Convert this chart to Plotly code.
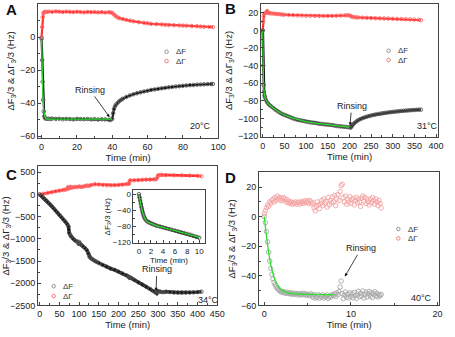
import plotly.graph_objects as go

W, H = 455, 337

# ---------------- Panel A (20 C) ----------------
a_t_f = [0, 0.3, 0.6, 0.9, 1.2, 1.5, 2, 3, 4, 5,
         6, 8, 10, 12, 14, 16, 18, 20, 22, 24,
         26, 28, 30, 32, 34, 36, 38, 39, 40, 40.5,
         41, 41.5, 42, 43, 44, 45, 46, 48, 50, 52,
         54, 56, 58, 60, 62, 64, 66, 68, 70, 72,
         74, 76, 78, 80, 82, 84, 86, 88, 90, 92,
         94, 96, 97]
a_f = [-1, -14, -27, -38, -45, -48, -49.2, -49.5, -49.4, -49.6,
       -49.3, -49.5, -49.4, -49.7, -49.5, -49.6, -49.8, -49.5, -49.6, -49.7,
       -49.5, -49.8, -49.6, -49.9, -49.7, -49.8, -50, -50.2, -49.5, -46,
       -43.5, -42, -41, -39.8, -38.8, -38, -37.3, -36.2, -35.3, -34.6,
       -34, -33.4, -32.9, -32.5, -32, -31.7, -31.3, -31, -30.7, -30.4,
       -30.2, -29.9, -29.7, -29.5, -29.3, -29.1, -29, -28.8, -28.7, -28.6,
       -28.5, -28.4, -28.4]
a_t_g = [0, 0.3, 0.6, 1, 1.5, 2, 3, 4, 6, 8,
         10, 12, 14, 16, 18, 20, 22, 24, 26, 28,
         30, 32, 34, 36, 38, 39, 40, 41, 42, 43,
         44, 46, 48, 50, 52, 55, 58, 60, 62, 65,
         68, 70, 72, 75, 78, 80, 82, 85, 88, 90,
         92, 95, 97]
a_g = [0, 6, 12, 14.5, 15, 15.3, 15.1, 15.4, 15.2, 15.5,
       15.3, 15.1, 15.4, 15.2, 15.0, 15.3, 15.1, 14.9, 15.2, 15.0,
       15.2, 14.9, 15.1, 14.8, 15.0, 14.9, 14.6, 13.6, 12.6, 11.9,
       11.4, 10.8, 10.3, 9.9, 9.5, 9.0, 8.6, 8.3, 8.0, 7.8,
       7.6, 7.4, 7.2, 7.1, 7.0, 6.9, 6.8, 6.6, 6.5, 6.3,
       6.2, 6.1, 6.0]
a_fit_t = [0, 0.25, 0.5, 0.75, 1, 1.25, 1.5, 2, 2.5, 3, 4, 6, 10, 20, 30, 40]
a_fit = [-1.5, -15, -27, -35, -41, -44.5, -46.5, -48.5, -49.2, -49.5,
         -49.6, -49.6, -49.6, -49.6, -49.6, -49.6]

# ---------------- Panel B (31 C) ----------------
b_t_f = [0, 1, 2, 3, 4, 5, 7, 10, 13, 16,
         20, 25, 30, 35, 40, 45, 50, 55, 60, 65,
         70, 75, 80, 85, 90, 95, 100, 105, 110, 115,
         120, 125, 130, 135, 140, 145, 150, 155, 160, 165,
         170, 175, 180, 185, 190, 195, 200, 203, 206, 209,
         212, 216, 220, 225, 230, 235, 240, 245, 250, 255,
         260, 265, 270, 275, 280, 285, 290, 295, 300, 305,
         310, 315, 320, 325, 330, 335, 340, 345, 350, 355,
         360, 365]
b_f = [0, -40, -62, -70, -74, -76, -79, -81.5, -83.5, -85,
       -86.5, -88.5, -90.5, -92, -93.5, -95, -96, -97, -98, -99,
       -100, -100.8, -101.5, -102, -102.5, -103, -103.5, -104, -104.5, -104.8,
       -105, -105.5, -106, -106.2, -106.5, -106.8, -107, -107.3, -107.5, -108,
       -108.5, -108.8, -109, -109.3, -109.5, -109.8, -110, -110.5, -108.5, -106.5,
       -105, -103.5, -102, -100.8, -99.8, -98.8, -98, -97.3, -96.7, -96.1,
       -95.6, -95.1, -94.7, -94.3, -93.9, -93.5, -93.2, -92.9, -92.6, -92.3,
       -92, -91.8, -91.5, -91.3, -91.1, -90.9, -90.7, -90.5, -90.4, -90.2,
       -90.1, -90]
b_t_g = [0, 1, 2, 3, 5, 8, 10, 13, 16, 20,
         25, 30, 35, 40, 45, 50, 60, 70, 80, 90,
         100, 110, 120, 130, 140, 150, 160, 170, 180, 190,
         195, 200, 203, 206, 210, 215, 220, 230, 240, 250,
         260, 270, 280, 290, 300, 310, 320, 330, 340, 350,
         360, 365]
b_g = [0, 10, 16, 19, 19.5, 20, 22, 19.8, 19.5, 19.2,
       19, 18.7, 18.5, 18.3, 18, 17.8, 17.5, 17.3, 17, 16.8,
       16.6, 16.5, 16.4, 16.4, 16.3, 16.4, 16.5, 16.6, 16.8, 17.1,
       17.2, 17, 16.2, 15.5, 15, 14.8, 14.6, 14.4, 14.2, 14,
       13.8, 13.7, 13.5, 13.4, 13.2, 13, 12.9, 12.7, 12.5, 12.3,
       12.1, 11.5]
b_fit_t = [0, 1, 2, 3, 5, 10, 20, 40, 60, 100, 150, 200]
b_fit = [0, -40, -62, -70, -76, -81.5, -86.5, -93.5, -98, -103.5, -107, -110]

# ---------------- Panel C (34 C) ----------------
c_t_f = [0, 5, 10, 15, 20, 25, 30, 35, 40, 45,
         50, 55, 60, 65, 70, 73, 75, 78, 80, 85,
         90, 95, 98, 100, 102, 105, 110, 115, 120, 123,
         126, 129, 132, 135, 140, 145, 150, 160, 170, 180,
         190, 200, 210, 220, 225, 228, 230, 235, 240, 250,
         260, 270, 280, 290, 294, 297, 300, 305, 310, 315,
         320, 330, 340, 350, 360, 370, 380, 390, 400, 410]
c_f = [0, -40, -80, -120, -165, -210, -260, -310, -360, -410,
       -460, -510, -560, -610, -670, -720, -870, -920, -950, -1000,
       -1040, -1060, -1100, -1070, -1110, -1130, -1170, -1210, -1260, -1330,
       -1400, -1430, -1450, -1470, -1500, -1520, -1545, -1590, -1630, -1670,
       -1700, -1740, -1780, -1820, -1850, -1880, -1870, -1900, -1930, -1980,
       -2030, -2080, -2130, -2180, -2210, -2230, -2180, -2190, -2200, -2200,
       -2190, -2200, -2210, -2210, -2210, -2210, -2210, -2205, -2200, -2190]
c_t_g = [0, 10, 20, 30, 40, 50, 60, 65, 70, 72,
         75, 78, 80, 85, 90, 95, 100, 105, 110, 115,
         120, 125, 130, 140, 150, 160, 170, 180, 190, 200,
         210, 220, 226, 228, 230, 240, 250, 260, 270, 280,
         290, 295, 298, 300, 305, 310, 320, 340, 360, 380,
         400, 410]
c_g = [0, 15, 35, 50, 70, 85, 100, 110, 120, 160,
       140, 170, 150, 160, 170, 165, 180, 170, 175, 190,
       200, 195, 210, 230, 225, 215, 205, 205, 210, 215,
       220, 230, 240, 300, 320, 320, 325, 330, 335, 335,
       340, 345, 380, 430, 440, 440, 435, 430, 430, 425,
       420, 410]

# inset: first ten minutes of panel C
i_t = [0, 0.1, 0.2, 0.3, 0.4, 0.5, 0.6, 0.7, 0.8, 0.9,
       1, 1.2, 1.4, 1.6, 1.8, 2, 2.25, 2.5, 2.75, 3,
       3.5, 4, 4.5, 5, 5.5, 6, 6.5, 7, 7.5, 8,
       8.5, 9, 9.5, 10]
i_f = [0, -8, -16, -24, -32, -38, -44, -49, -54, -58,
       -61, -65, -67.5, -69.5, -71, -72.5, -74, -75.5, -77, -78.5,
       -80.5, -82.5, -84.5, -86.5, -88.5, -90.5, -92.5, -94.5, -96.5, -98.5,
       -100.5, -103, -105.5, -108]
i_fit_t = [0, 0.25, 0.5, 0.75, 1, 1.5, 2, 3, 4, 5, 6, 7, 8, 9, 10]
i_fit = [0, -20, -38, -51, -61, -69.5, -72.5, -78.5, -82.5, -86.5, -90.5, -94.5, -98.5, -103, -108]

# ---------------- Panel D (40 C) ----------------
d_t = [0, 0.125, 0.25, 0.375, 0.5, 0.625, 0.75, 0.875,
       1.0, 1.125, 1.25, 1.375, 1.5, 1.625, 1.75, 1.875,
       2.0, 2.125, 2.25, 2.375, 2.5, 2.625, 2.75, 2.875,
       3.0, 3.125, 3.25, 3.375, 3.5, 3.625, 3.75, 3.875,
       4.0, 4.125, 4.25, 4.375, 4.5, 4.625, 4.75, 4.875,
       5.0, 5.125, 5.25, 5.375, 5.5, 5.625, 5.75, 5.875,
       6.0, 6.125, 6.25, 6.375, 6.5, 6.625, 6.75, 6.875,
       7.0, 7.125, 7.25, 7.375, 7.5, 7.625, 7.75, 7.875,
       8.0, 8.125, 8.25, 8.375, 8.5, 8.625, 8.75, 8.875,
       9.0, 9.125, 9.25, 9.375, 9.5, 9.625, 9.75, 9.875,
       10.0, 10.125, 10.25, 10.375, 10.5, 10.625, 10.75, 10.875,
       11.0, 11.125, 11.25, 11.375, 11.5, 11.625, 11.75, 11.875,
       12.0, 12.125, 12.25, 12.375, 12.5, 12.625, 12.75, 12.875,
       13.0, 13.125, 13.25, 13.375, 13.5]
d_f = [0, -4, -10, -17, -24, -30, -35, -39,
       -42, -44.5, -46, -47.5, -48.5, -49, -50, -50.5,
       -51, -50.5, -51.5, -51, -51.8, -51.2, -52, -51.5,
       -52.2, -51.6, -52.5, -51.8, -52.3, -52, -52.8, -51.9,
       -52.4, -53, -52.1, -52.6, -51.8, -52.9, -52.3, -53.2,
       -52.4, -52.8, -53.5, -52.2, -53, -54.5, -52.6, -55,
       -53.8, -54.6, -52.8, -55.2, -53.5, -54.2, -53, -55,
       -53.6, -54.4, -52.9, -55.3, -53.8, -54.5, -53.2, -52.6,
       -53.4, -52.2, -54, -51.5, -52.8, -50.5, -47.5, -43.5,
       -52, -55.5, -53, -51, -54.5, -52.5, -55, -51.5,
       -53.8, -52, -54.8, -51.2, -53.5, -55.2, -52.4, -50.5,
       -54, -51.8, -53.6, -50.2, -55, -52.6, -51, -54.3,
       -52.2, -50.6, -53.8, -51.5, -54.6, -52.3, -50.8, -53.5,
       -51.8, -54.2, -52.8, -53.6, -52.6]
d_g = [2, 4, 6, 8, 7, 10, 9, 11,
       12, 10, 13, 11, 14, 12, 13, 11,
       12.5, 11, 13, 12, 10, 11.5, 9.5, 10.5,
       9, 10, 8.5, 9.5, 9, 10, 8.5, 9.5,
       10, 8.5, 9.5, 10.5, 9, 10, 11, 9.5,
       10.5, 9, 11, 10, 8.5, 9.5, 6, 4,
       7, 10, 8, 5.5, 9, 11, 7.5, 12,
       9, 10.5, 6.5, 13, 8, 11, 9.5, 13.5,
       10, 14.5, 7.5, 12, 15, 11, 17, 21,
       22, 13, 10, 14, 8.5, 12, 10, 13.5,
       9, 11.5, 12.5, 8, 11, 13, 9.5, 12,
       10, 7, 12.5, 14, 10.5, 13, 9, 12,
       10, 8, 12, 9.5, 13, 11, 8.5, 12,
       10, 7.5, 11, 9, 6]
d_fit_t = [0, 0.25, 0.5, 0.75, 1, 1.25, 1.5, 2, 2.5, 3, 4, 5, 6, 7, 8]
d_fit = [0, -13, -24, -32.5, -38.5, -43, -46, -49.5, -51, -51.8, -52.3, -52.5, -52.6, -52.7, -52.8]

FONT = "Arial, Liberation Sans, sans-serif"
FIT_GREEN = "#2fe02f"
YTITLE = "ΔF<sub>3</sub>/3 & ΔΓ<sub>3</sub>/3 (Hz)"


def px(x):
    return x / W


def py(y):
    return 1 - y / H


fig = go.Figure()


def band(t, v, lcol, mcol, ax, size=3.5, lw=2.2, mode="lines+markers"):
    fig.add_trace(go.Scatter(
        x=t, y=v, xaxis=ax[0], yaxis=ax[1], mode=mode,
        line=dict(color=lcol, width=lw),
        marker=dict(symbol="circle-open", size=size, color=mcol, line=dict(width=0.9)),
        showlegend=False, hoverinfo="skip"))


def fit(t, v, ax, lw=1.3):
    fig.add_trace(go.Scatter(
        x=t, y=v, xaxis=ax[0], yaxis=ax[1], mode="lines",
        line=dict(color=FIT_GREEN, width=lw, shape="spline"),
        showlegend=False, hoverinfo="skip"))


RED_L, RED_M = "#ff3030", "#ff6a6a"
BLK_L, BLK_M = "#111111", "#555555"

band(a_t_g, a_g, RED_L, RED_M, ("x", "y"))
band(a_t_f, a_f, BLK_L, BLK_M, ("x", "y"))
fit(a_fit_t, a_fit, ("x", "y"))

band(b_t_g, b_g, RED_L, RED_M, ("x2", "y2"))
band(b_t_f, b_f, BLK_L, BLK_M, ("x2", "y2"), lw=2.6)
fit(b_fit_t, b_fit, ("x2", "y2"))

band(c_t_g, c_g, RED_L, RED_M, ("x3", "y3"), lw=2.6)
band(c_t_f, c_f, BLK_L, BLK_M, ("x3", "y3"), lw=3.4)

band(d_t, d_g, None, "#f4a3a3", ("x4", "y4"), size=4.5, mode="markers")
band(d_t, d_f, None, "#a8a8a8", ("x4", "y4"), size=4.5, mode="markers")
fit(d_fit_t, d_fit, ("x4", "y4"))

band(i_t, i_f, BLK_L, BLK_M, ("x5", "y5"), lw=3)
fit(i_fit_t, i_fit, ("x5", "y5"))


def axis(domain, rng, dtick, anchor, title=None, minor=None, tfs=9):
    d = dict(domain=domain, range=rng, dtick=dtick, anchor=anchor,
             showgrid=False, zeroline=False, showline=True, mirror=True,
             linecolor="#444", linewidth=1, ticks="inside", ticklen=3,
             tickcolor="#444", tickfont=dict(family=FONT, size=tfs, color="#222"))
    if minor:
        d["minor"] = dict(dtick=minor, ticks="inside", ticklen=2, tickcolor="#444")
    if title:
        d["title"] = dict(text=title, font=dict(family=FONT, size=9.5, color="#222"), standoff=3)
    return d


dA = dict(x=(px(35), px(220)), y=(py(140), py(4)))
dB = dict(x=(px(264), px(446)), y=(py(139), py(4)))
dC = dict(x=(px(35), px(219)), y=(py(310), py(169)))
dD = dict(x=(px(262), px(447)), y=(py(310), py(175)))
dI = dict(x=(px(133), px(206)), y=(py(247), py(193)))

fig.update_layout(
    width=W, height=H, margin=dict(l=0, r=0, t=0, b=0),
    paper_bgcolor="white", plot_bgcolor="white",
    font=dict(family=FONT, color="#222"),
    xaxis=axis(dA["x"], [-2, 100], 20, "y", "Time (min)", 10),
    yaxis=axis(dA["y"], [-61, 20], 20, "x", YTITLE, 10),
    xaxis2=axis(dB["x"], [-4, 405], 50, "y2", "Time (min)", 25),
    yaxis2=axis(dB["y"], [-121, 30], 20, "x2", YTITLE, 10),
    xaxis3=axis(dC["x"], [-4, 450], 50, "y3", "Time (min)", 25),
    yaxis3=axis(dC["y"], [-2500, 630], 500, "x3", YTITLE, 250),
    xaxis4=axis(dD["x"], [-0.6, 20.2], 10, "y4", "Time (min)", 5),
    yaxis4=axis(dD["y"], [-60, 30], 20, "x4", YTITLE, 10),
    xaxis5=axis(dI["x"], [-0.9, 10.9], 2, "y5", "Time (min)", 1, tfs=8),
    yaxis5=axis(dI["y"], [-122, 10], 40, "x5", "ΔF<sub>3</sub>/3 (Hz)", 20, tfs=8),
)
fig.layout.xaxis5.title.font.size = 8
fig.layout.yaxis5.title.font.size = 8
fig.layout.xaxis5.title.standoff = 1
fig.layout.yaxis5.title.standoff = 1

ann = []
shapes = []


def label(text, x, y, size=9, xanchor="center", color="#222"):
    ann.append(dict(text=text, x=px(x), y=py(y), xref="paper", yref="paper",
                    xanchor=xanchor, yanchor="middle", showarrow=False,
                    font=dict(family=FONT, size=size, color=color)))


# panel letters
for letter, x, y in [("A", 8, 10), ("B", 233, 9), ("C", 8, 177), ("D", 233, 180)]:
    label(f"<b>{letter}</b>", x, y, size=15, color="#111")

# temperature labels
for txt, x, y in [("20°C", 202, 128), ("31°C", 435, 128), ("34°C", 210, 305), ("40°C", 429, 302)]:
    label(txt, x, y)

# legends drawn as glyph + text
for (mx, my1, my2, tx) in [(167, 52.5, 62, 175), (395, 51.5, 61, 403), (51, 290.5, 300.5, 59), (405, 232.5, 242, 413)]:
    for my, col, lab in [(my1, "#8a8a8a", "ΔF"), (my2, "#f07070", "ΔΓ")]:
        shapes.append(dict(type="circle", xref="paper", yref="paper",
                           x0=px(mx - 1.8), x1=px(mx + 1.8), y0=py(my + 1.8), y1=py(my - 1.8),
                           line=dict(color=col, width=0.9)))
        label(lab, tx, my, size=8, xanchor="left", color="#333")

# rinsing arrows (head at the data point, text at the tail)
for xr, yr, hx, hy, tx, ty in [("x", "y", 38.5, -48.5, 27.4, -32),
                               ("x2", "y2", 201.5, -108, 205, -86),
                               ("x3", "y3", 295, -2175, 297, -1690),
                               ("x4", "y4", 9.3, -40.5, 11.2, -21.3)]:
    ann.append(dict(text="Rinsing", x=hx, y=hy, ax=tx, ay=ty, xref=xr, yref=yr,
                    axref=xr, ayref=yr, showarrow=True, arrowhead=2, arrowsize=0.8,
                    arrowwidth=0.8, arrowcolor="#111",
                    font=dict(family=FONT, size=9, color="#222")))

fig.update_layout(annotations=ann, shapes=shapes)

fig.write_html("out.html")
